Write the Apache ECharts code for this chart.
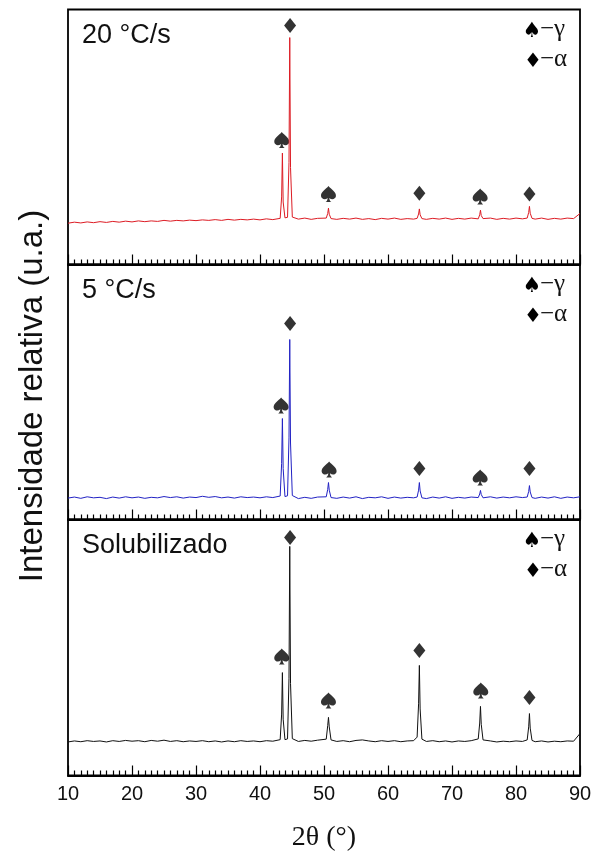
<!DOCTYPE html>
<html>
<head>
<meta charset="utf-8">
<script src="https://cdn.jsdelivr.net/npm/echarts@6/dist/echarts.min.js"></script>
<style>
  html, body { margin: 0; padding: 0; background: #fff; }
  #chart { width: 600px; height: 856px; }
</style>
</head>
<body>
<div id="chart"></div>
<script>
// 2θ positions shared by the three patterns
const theta = [
  10, 11, 12, 13, 14, 15, 16, 17, 18, 19, 20, 21, 22, 23, 24, 25, 26, 27, 28, 29,
  30, 31, 32, 33, 34, 35, 36, 37, 38, 39, 40, 41, 42,
  43.15, 43.38, 43.5, 43.62, 43.9, 44.3, 44.53, 44.65, 44.77, 45.05,
  46, 47, 48, 49,
  50.35, 50.58, 50.7, 50.82, 51.1,
  52, 53, 54, 55, 56, 57, 58, 59, 60, 61, 62, 63, 64,
  64.55, 64.78, 64.9, 65.02, 65.3,
  66, 67, 68, 69, 70, 71, 72, 73,
  74.1, 74.33, 74.45, 74.57, 74.85,
  75, 76, 77, 78, 79, 80, 81,
  81.75, 81.98, 82.1, 82.22, 82.5,
  83, 84, 85, 86, 87, 88, 89, 90
]

// intensidade relativa (0-100 per panel)
const rate20 = [
  16.2, 16.6, 16.3, 16.7, 16.4, 16.8, 16.5, 16.9, 16.6, 17.0, 16.7, 17.1, 16.8, 17.1, 16.9, 17.3, 17.0, 17.3, 17.1, 17.4,
  17.2, 17.5, 17.3, 17.6, 17.3, 17.7, 17.4, 17.7, 17.5, 17.8, 17.5, 17.9, 17.6,
  18.1, 26.5, 43.7, 24.5, 18.3, 18.5, 40, 89.0, 38, 18.6,
  17.8, 18.2, 17.7, 18.1,
  18.2, 20.0, 22.1, 19.7, 18.0,
  17.7, 18.1, 17.8, 18.2, 17.7, 18.0, 17.6, 18.1, 17.8, 18.2, 17.7, 18.0, 17.8,
  18.1, 19.8, 21.8, 19.5, 18.0,
  17.7, 18.1, 17.8, 18.2, 17.7, 18.1, 17.8, 18.2,
  17.9, 19.5, 21.3, 19.2, 18.0,
  17.8, 18.2, 17.7, 18.1, 17.8, 18.2, 17.9,
  18.2, 20.4, 22.8, 20.1, 18.1,
  17.8, 18.2, 17.7, 18.1, 17.8, 18.2, 18.0, 20.0
]
const rate5 = [
  8.4, 8.8, 8.3, 8.9, 8.5, 8.7, 8.2, 8.8, 8.4, 8.9, 8.5, 8.8, 8.3, 8.7, 8.5, 9.0, 8.6, 8.9, 8.4, 8.8,
  8.6, 9.1, 8.7, 9.0, 8.5, 8.8, 8.4, 8.9, 8.6, 8.8, 8.5, 8.9, 8.6,
  9.2, 22, 39.6, 20, 9.0, 9.3, 32, 70.6, 30, 9.4,
  8.2, 8.7, 8.3, 8.8,
  8.9, 11.8, 14.5, 11.5, 8.6,
  8.3, 8.8, 8.4, 8.9, 8.2, 8.7, 8.5, 8.9, 8.3, 8.8, 8.4, 8.7, 8.5,
  8.8, 11.5, 14.5, 11.2, 8.5,
  8.2, 8.8, 8.4, 8.9, 8.3, 8.7, 8.4, 8.8,
  8.6, 10.0, 11.4, 9.8, 8.5,
  8.3, 8.9, 8.4, 8.8, 8.5, 8.9, 8.6,
  8.8, 11.0, 13.3, 10.8, 8.6,
  8.3, 8.8, 8.4, 8.9, 8.3, 8.8, 8.5, 8.9
]
const solub = [
  13.1, 13.5, 13.2, 13.6, 13.3, 13.5, 13.1, 13.6, 13.3, 13.7, 13.4, 13.6, 13.2, 13.7, 13.4, 13.8, 13.3, 13.6, 13.2, 13.5,
  13.3, 13.6, 13.2, 13.5, 13.1, 13.5, 13.2, 13.6, 13.3, 13.5, 13.2, 13.6, 13.4,
  14.0, 24, 40.2, 22, 14.0, 14.3, 38, 89.5, 36, 14.4,
  13.3, 13.7, 13.4, 13.8,
  14.2, 19.5, 22.7, 19.0, 13.9,
  13.3, 13.6, 13.2, 13.7, 13.9, 13.5, 13.2, 13.6, 13.3, 13.6, 13.2, 13.5, 13.6,
  15.0, 28, 43.0, 26, 14.2,
  13.3, 13.6, 13.2, 13.5, 13.1, 13.5, 13.3, 13.6,
  14.3, 20.5, 27.0, 20.0, 13.9,
  13.2, 13.5, 13.1, 13.4, 13.2, 13.5, 13.3,
  13.9, 19.0, 24.2, 18.5, 13.7,
  13.2, 13.5, 13.1, 13.4, 13.2, 13.5, 13.4, 16.4
]

// peak markers [2θ, height]
const gamma20 = [[43.4, 48.8], [50.7, 27.6], [74.4, 26.7]]
const alpha20 = [[44.7, 93.7], [64.9, 27.9], [82.1, 27.6]]
const gamma5 = [[43.3, 44.7], [50.8, 19.6], [74.4, 16.5]]
const alpha5 = [[44.7, 76.9], [64.9, 20.0], [82.1, 20.0]]
const gammaS = [[43.4, 46.5], [50.7, 29.3], [74.5, 33.2]]
const alphaS = [[44.7, 93.0], [64.9, 48.8], [82.1, 30.5]]

const panelNames = ['20 °C/s', '5 °C/s', 'Solubilizado']
const xTicks = [10, 20, 30, 40, 50, 60, 70, 80, 90]

const spade = 'path://M50,0 C35,20 0,38 4,64 C7,82 30,88 45,74 C44,86 40,94 32,100 L68,100 C60,94 56,86 55,74 C70,88 93,82 96,64 C100,38 65,20 50,0 Z'

const tops = [9.5, 264.5, 519.5]
const heights = [255, 255, 256]
const colors = ['#dd1c24', '#2222c4', '#111111']
const traces = [rate20, rate5, solub]
const gammas = [gamma20, gamma5, gammaS]
const alphas = [alpha20, alpha5, alphaS]

const chart = echarts.init(document.getElementById('chart'))

const grid = tops.map((t, i) => ({
  left: 68, right: 20, top: t, height: heights[i],
  show: true, borderColor: '#000', borderWidth: 1.8, backgroundColor: 'transparent'
}))

const xAxis = tops.map((t, i) => ({
  type: 'value', gridIndex: i, min: 10, max: 90, interval: 10,
  axisLine: { show: true, lineStyle: { color: '#000', width: 1.8 } },
  axisTick: { show: true, inside: true, length: 10, lineStyle: { color: '#000', width: 1.2 } },
  minorTick: { show: true, splitNumber: 10, length: 5, lineStyle: { color: '#000', width: 1.2 } },
  splitLine: { show: false },
  axisLabel: {
    show: i === 2, color: '#111', fontSize: 20, margin: 9, fontFamily: 'Liberation Sans',
    formatter: v => xTicks.includes(v) ? String(v) : ''
  },
  name: i === 2 ? '2θ (°)' : '',
  nameLocation: 'middle', nameGap: 48,
  nameTextStyle: { fontFamily: 'Liberation Serif', fontSize: 28, color: '#111' }
}))

const yAxis = tops.map((t, i) => ({
  type: 'value', gridIndex: i, min: 0, max: 100, show: false
}))

const series = []
traces.forEach((tr, i) => {
  series.push({
    type: 'line', xAxisIndex: i, yAxisIndex: i, showSymbol: false, smooth: false,
    lineStyle: { color: colors[i], width: 1 },
    data: theta.map((t, k) => [t, tr[k]])
  })
  series.push({
    type: 'scatter', xAxisIndex: i, yAxisIndex: i, symbol: spade, symbolSize: [15, 16],
    itemStyle: { color: '#000' }, data: gammas[i]
  })
  series.push({
    type: 'scatter', xAxisIndex: i, yAxisIndex: i, symbol: 'diamond', symbolSize: [12, 15],
    itemStyle: { color: '#000' }, data: alphas[i]
  })
})

const title = tops.map((t, i) => ({
  text: panelNames[i], left: 77, top: t + 8,
  textStyle: { fontFamily: 'Liberation Sans', fontSize: 27, fontWeight: 'normal', color: '#111' }
}))

const graphic = [{
  type: 'text', x: 33, y: 396, rotation: Math.PI / 2,
  style: {
    text: 'Intensidade relativa (u.a.)', fill: '#111',
    font: '33px "Liberation Sans"', align: 'center', verticalAlign: 'middle'
  }
}]
tops.forEach(t => {
  graphic.push({
    type: 'text', x: 532, y: t + 22,
    style: { text: '♠', fill: '#000', font: '21px "DejaVu Sans"', align: 'center', verticalAlign: 'middle' }
  })
  graphic.push({
    type: 'text', x: 540, y: t + 20,
    style: { text: '−γ', fill: '#111', font: '25px "Liberation Serif"', align: 'left', verticalAlign: 'middle' }
  })
  graphic.push({
    type: 'text', x: 533, y: t + 52,
    style: { text: '♦', fill: '#000', font: '20px "DejaVu Sans"', align: 'center', verticalAlign: 'middle' }
  })
  graphic.push({
    type: 'text', x: 540, y: t + 50,
    style: { text: '−α', fill: '#111', font: '25px "Liberation Serif"', align: 'left', verticalAlign: 'middle' }
  })
})

chart.setOption({
  animation: false,
  backgroundColor: '#fff',
  title, grid, xAxis, yAxis, series, graphic
})
</script>
</body>
</html>
